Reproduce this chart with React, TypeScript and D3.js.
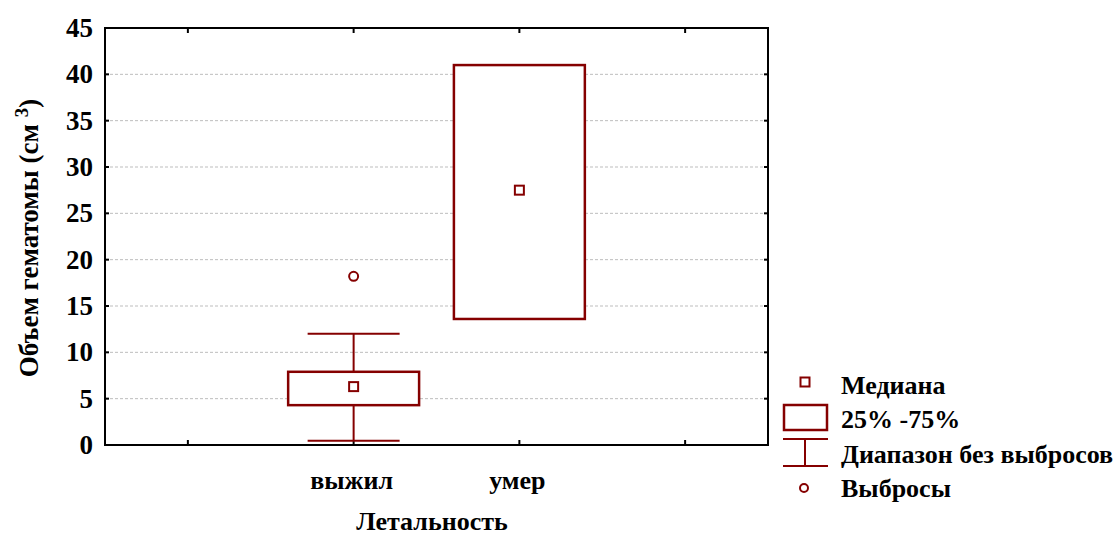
import React, { useRef, useEffect } from "react";
import * as d3 from "d3";

const slots = ["left", "выжил", "умер", "right"];
const categories = ["выжил", "умер"];
const medians = [6.3, 27.5];
const q1 = [4.3, 13.6];
const q3 = [7.9, 41.0];
const whiskerLow = [0.45, 13.6];
const whiskerHigh = [12.0, 41.0];
const outliers = [[18.2], []];
const yTicks = [0, 5, 10, 15, 20, 25, 30, 35, 40, 45];

const RED = "#850000";
const FONT = "'Liberation Serif', 'Times New Roman', serif";

export default function App() {
  const ref = useRef<SVGSVGElement>(null);

  useEffect(() => {
    const svg = d3.select(ref.current);
    svg.selectAll("*").remove();

    const left = 105, right = 768, top = 28, bottom = 445;
    const x = d3.scaleBand().domain(slots).range([left, right]);
    const y = d3.scaleLinear().domain([0, 45]).range([bottom, top]);
    const bw = x.bandwidth();
    const cx = (c: string) => (x(c) as number) + bw / 2;

    // grid
    svg.append("g")
      .selectAll("line")
      .data(yTicks.filter(t => t > 0 && t < 45))
      .join("line")
      .attr("x1", left).attr("x2", right)
      .attr("y1", d => y(d)).attr("y2", d => y(d))
      .attr("stroke", "#bdbdbd")
      .attr("stroke-dasharray", "3,2")
      .attr("stroke-width", 1);

    // frame
    svg.append("rect")
      .attr("x", left).attr("y", top)
      .attr("width", right - left).attr("height", bottom - top)
      .attr("fill", "none").attr("stroke", "#000").attr("stroke-width", 2);

    // inner ticks
    const tk = svg.append("g").attr("stroke", "#000").attr("stroke-width", 2);
    slots.forEach(s => {
      tk.append("line").attr("x1", cx(s)).attr("x2", cx(s)).attr("y1", bottom).attr("y2", bottom - 5);
      tk.append("line").attr("x1", cx(s)).attr("x2", cx(s)).attr("y1", top).attr("y2", top + 5);
    });
    yTicks.forEach(t => {
      tk.append("line").attr("x1", left).attr("x2", left + 4).attr("y1", y(t)).attr("y2", y(t));
      tk.append("line").attr("x1", right).attr("x2", right - 4).attr("y1", y(t)).attr("y2", y(t));
    });

    // y tick labels
    svg.append("g")
      .selectAll("text")
      .data(yTicks)
      .join("text")
      .attr("x", 93)
      .attr("y", d => y(d) + 9)
      .attr("text-anchor", "end")
      .attr("font-family", FONT)
      .attr("font-weight", "bold")
      .attr("font-size", 27)
      .text(d => d);

    // category labels
    svg.append("g")
      .selectAll("text")
      .data(categories)
      .join("text")
      .attr("x", d => cx(d) - 2)
      .attr("y", 489)
      .attr("text-anchor", "middle")
      .attr("font-family", FONT)
      .attr("font-weight", "bold")
      .attr("font-size", 26)
      .text(d => d);

    // axis titles
    svg.append("text")
      .attr("x", 432).attr("y", 530)
      .attr("text-anchor", "middle")
      .attr("font-family", FONT).attr("font-weight", "bold").attr("font-size", 26)
      .text("Летальность");

    const yl = svg.append("text")
      .attr("transform", "translate(38,238) rotate(-90)")
      .attr("text-anchor", "middle")
      .attr("font-family", FONT).attr("font-weight", "bold").attr("font-size", 27);
    yl.append("tspan").text("Объем гематомы (см ");
    yl.append("tspan").attr("dy", -10).attr("font-size", 19).text("3");
    yl.append("tspan").attr("dy", 10).text(")");

    // boxes
    const boxW = bw * 0.79;
    const capW = bw * 0.555;
    categories.forEach((c, i) => {
      const g = svg.append("g").attr("stroke", RED).attr("fill", "none");
      const xc = cx(c);
      g.append("line").attr("x1", xc).attr("x2", xc)
        .attr("y1", y(whiskerHigh[i])).attr("y2", y(q3[i])).attr("stroke-width", 2);
      g.append("line").attr("x1", xc).attr("x2", xc)
        .attr("y1", y(q1[i])).attr("y2", y(whiskerLow[i])).attr("stroke-width", 2);
      g.append("line").attr("x1", xc - capW / 2).attr("x2", xc + capW / 2)
        .attr("y1", y(whiskerHigh[i])).attr("y2", y(whiskerHigh[i])).attr("stroke-width", 2);
      g.append("line").attr("x1", xc - capW / 2).attr("x2", xc + capW / 2)
        .attr("y1", y(whiskerLow[i])).attr("y2", y(whiskerLow[i])).attr("stroke-width", 2);
      g.append("rect")
        .attr("x", xc - boxW / 2).attr("y", y(q3[i]))
        .attr("width", boxW).attr("height", y(q1[i]) - y(q3[i]))
        .attr("fill", "#fff").attr("stroke-width", 2.5);
      g.append("rect")
        .attr("x", xc - 4.5).attr("y", y(medians[i]) - 4.5)
        .attr("width", 9).attr("height", 9)
        .attr("fill", "#fff").attr("stroke-width", 2);
      outliers[i].forEach(v => {
        g.append("circle").attr("cx", xc).attr("cy", y(v)).attr("r", 4.5)
          .attr("fill", "#fff").attr("stroke-width", 2);
      });
    });

    // legend
    const lg = svg.append("g");
    const lx = 805;
    lg.append("rect").attr("x", lx - 4.5).attr("y", 377.5).attr("width", 9).attr("height", 9)
      .attr("fill", "#fff").attr("stroke", RED).attr("stroke-width", 2);
    lg.append("rect").attr("x", 784).attr("y", 405).attr("width", 43).attr("height", 25)
      .attr("fill", "#fff").attr("stroke", RED).attr("stroke-width", 2.5);
    lg.append("line").attr("x1", 783).attr("x2", 828).attr("y1", 439).attr("y2", 439)
      .attr("stroke", RED).attr("stroke-width", 2);
    lg.append("line").attr("x1", 783).attr("x2", 828).attr("y1", 466).attr("y2", 466)
      .attr("stroke", RED).attr("stroke-width", 2);
    lg.append("line").attr("x1", lx).attr("x2", lx).attr("y1", 439).attr("y2", 466)
      .attr("stroke", RED).attr("stroke-width", 2);
    lg.append("circle").attr("cx", 804).attr("cy", 488).attr("r", 4)
      .attr("fill", "#fff").attr("stroke", RED).attr("stroke-width", 2);

    const legendLabels = ["Медиана", "25% -75%", "Диапазон без выбросов", "Выбросы"];
    const legendY = [394, 428, 463, 497];
    lg.selectAll("text")
      .data(legendLabels)
      .join("text")
      .attr("x", 841)
      .attr("y", (d, i) => legendY[i])
      .attr("font-family", FONT).attr("font-weight", "bold").attr("font-size", 26)
      .text(d => d);
  }, []);

  return (
    <svg
      ref={ref}
      width={1116}
      height={535}
      style={{ position: "absolute", left: 0, top: 0, background: "#fff" }}
    ></svg>
  );
}
